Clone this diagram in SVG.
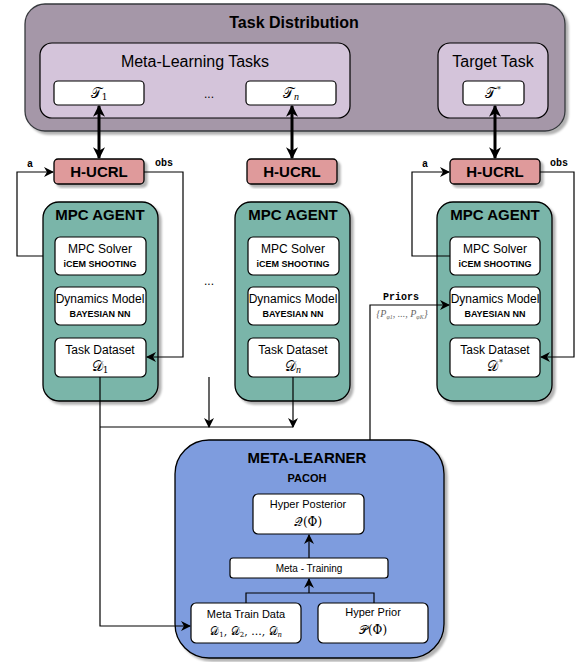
<svg xmlns="http://www.w3.org/2000/svg" width="577" height="662" viewBox="0 0 577 662">
<defs>
<filter id="sh" x="-10%" y="-10%" width="130%" height="130%"><feDropShadow dx="3" dy="3" stdDeviation="1" flood-color="#000" flood-opacity="0.3"/></filter>
<marker id="ah" viewBox="0 0 10 10" refX="9" refY="5" markerWidth="10" markerHeight="10" markerUnits="userSpaceOnUse" orient="auto"><path d="M0,0 L10,5 L0,10 L3,5 Z" fill="#000"/></marker>
<marker id="ahs" viewBox="0 0 10 10" refX="9" refY="5" markerWidth="4" markerHeight="4" orient="auto-start-reverse"><path d="M0,0 L10,5 L0,10 L3,5 Z" fill="#000"/></marker>
</defs>
<style>
.sans{font-family:"Liberation Sans",Arial,sans-serif;}
.b{font-weight:bold;}
.mono{font-family:"Liberation Mono","Courier New",monospace;font-weight:bold;font-size:10px;}
.cal{font-family:"DejaVu Serif","Liberation Serif",serif;font-style:normal;}
.it{font-family:"Liberation Serif",serif;font-style:italic;}
.wbox{fill:#fff;stroke:#000;stroke-width:1.2;}
.ln{fill:none;stroke:#000;stroke-width:1.2;}
.thick{fill:none;stroke:#000;stroke-width:3;marker-start:url(#ahs);marker-end:url(#ahs);}
text{text-anchor:middle;fill:#000;}
.agent{fill:#7ab5a9;stroke:#000;stroke-width:1.3;filter:url(#sh);}
.hucrl{fill:#df9a9b;stroke:#000;stroke-width:1.3;filter:url(#sh);}
.sub{font-size:9px;font-weight:bold;}
</style>

<g id="task-distribution">
<rect x="25" y="4" width="540" height="127" rx="20" fill="#a597a8" stroke="#36393d" stroke-width="1.3" filter="url(#sh)"/>
<text x="294" y="28" class="sans b" font-size="16">Task Distribution</text>
</g>
<g id="meta-learning-tasks">
<rect x="40" y="43" width="310" height="75" rx="12" fill="#d4c4da" stroke="#000" stroke-width="1.2"/>
<text x="195" y="67" class="sans" font-size="16">Meta-Learning Tasks</text>
<text x="209" y="98" class="sans" font-size="12">...</text>
</g>
<g id="T1"><rect x="54" y="81" width="90" height="24" rx="4" class="wbox"/><text x="99" y="98" class="cal" font-size="14">𝒯<tspan font-size="9" dy="2">1</tspan></text></g>
<g id="Tn"><rect x="246" y="81" width="90" height="24" rx="4" class="wbox"/><text x="291" y="98" class="cal" font-size="14">𝒯<tspan class="it" font-size="10" dy="2">n</tspan></text></g>
<g id="target-task">
<rect x="438" y="43" width="110" height="75" rx="12" fill="#d4c4da" stroke="#000" stroke-width="1.2"/>
<text x="493" y="67" class="sans" font-size="16">Target Task</text>
</g>
<g id="Tstar"><rect x="463" y="81" width="61" height="24" rx="4" class="wbox"/><text x="493" y="98" class="cal" font-size="14">𝒯<tspan font-size="8" dx="1" dy="-6">*</tspan></text></g>

<g id="hucrl-1"><rect x="54" y="159" width="90" height="25" rx="4" class="hucrl"/><text x="99" y="177" class="sans b" font-size="15">H-UCRL</text></g>
<g id="hucrl-n"><rect x="247" y="159" width="90" height="25" rx="4" class="hucrl"/><text x="292" y="177" class="sans b" font-size="15">H-UCRL</text></g>
<g id="hucrl-star"><rect x="450" y="159" width="90" height="25" rx="4" class="hucrl"/><text x="495" y="177" class="sans b" font-size="15">H-UCRL</text></g>

<g id="agent-1">
<rect x="43" y="202" width="115" height="199" rx="16" class="agent"/>
<text x="100" y="220" class="sans b" font-size="15">MPC AGENT</text>
<rect x="55" y="237" width="91" height="38" rx="5" class="wbox"/>
<text x="100" y="253" class="sans" font-size="12">MPC Solver</text>
<text x="100" y="266.5" class="sans sub">iCEM SHOOTING</text>
<rect x="55" y="287" width="91" height="38" rx="5" class="wbox"/>
<text x="100" y="303" class="sans" font-size="12">Dynamics Model</text>
<text x="100" y="316.5" class="sans sub">BAYESIAN NN</text>
<rect x="55" y="338" width="91" height="39" rx="5" class="wbox"/>
<text x="100" y="354" class="sans" font-size="12">Task Dataset</text>
<text x="100" y="371" class="cal" font-size="14">𝒟<tspan font-size="9" dy="2">1</tspan></text>
</g>
<g id="agent-n">
<rect x="235" y="202" width="115" height="199" rx="16" class="agent"/>
<text x="293" y="220" class="sans b" font-size="15">MPC AGENT</text>
<rect x="248" y="237" width="91" height="38" rx="5" class="wbox"/>
<text x="293" y="253" class="sans" font-size="12">MPC Solver</text>
<text x="293" y="266.5" class="sans sub">iCEM SHOOTING</text>
<rect x="248" y="287" width="91" height="38" rx="5" class="wbox"/>
<text x="293" y="303" class="sans" font-size="12">Dynamics Model</text>
<text x="293" y="316.5" class="sans sub">BAYESIAN NN</text>
<rect x="248" y="338" width="91" height="39" rx="5" class="wbox"/>
<text x="293" y="354" class="sans" font-size="12">Task Dataset</text>
<text x="293" y="371" class="cal" font-size="14">𝒟<tspan class="it" font-size="10" dy="2">n</tspan></text>
</g>
<text x="209" y="285" class="sans" font-size="12">...</text>
<g id="agent-star">
<rect x="437" y="202" width="115" height="199" rx="16" class="agent"/>
<text x="495" y="220" class="sans b" font-size="15">MPC AGENT</text>
<rect x="450" y="237" width="90" height="38" rx="5" class="wbox"/>
<text x="495" y="253" class="sans" font-size="12">MPC Solver</text>
<text x="495" y="266.5" class="sans sub">iCEM SHOOTING</text>
<rect x="450" y="287" width="90" height="38" rx="5" class="wbox"/>
<text x="495" y="303" class="sans" font-size="12">Dynamics Model</text>
<text x="495" y="316.5" class="sans sub">BAYESIAN NN</text>
<rect x="450" y="338" width="90" height="39" rx="5" class="wbox"/>
<text x="495" y="354" class="sans" font-size="12">Task Dataset</text>
<text x="495" y="371" class="cal" font-size="14">𝒟<tspan font-size="8" dx="1" dy="-6">*</tspan></text>
</g>

<g id="meta-learner">
<rect x="175" y="440" width="269" height="218" rx="34" fill="#7e9cde" stroke="#000" stroke-width="1.3" filter="url(#sh)"/>
<text x="307" y="463" class="sans b" font-size="15">META-LEARNER</text>
<text x="307" y="482" class="sans b" font-size="11">PACOH</text>
<rect x="253" y="494" width="111" height="40" rx="5" class="wbox"/>
<text x="308" y="508" class="sans" font-size="11">Hyper Posterior</text>
<text x="308" y="526" class="cal" font-size="12">𝒬(Φ)</text>
<rect x="230" y="558" width="158" height="20" rx="3" class="wbox"/>
<text x="309" y="572" class="sans" font-size="10">Meta - Training</text>
<rect x="191" y="603" width="110" height="40" rx="5" class="wbox"/>
<text x="246" y="618" class="sans" font-size="11">Meta Train Data</text>
<text x="246" y="635" class="cal" font-size="11">𝒟<tspan font-size="7" dy="2">1</tspan><tspan dy="-2">, 𝒟</tspan><tspan font-size="7" dy="2">2</tspan><tspan dy="-2">, ..., 𝒟</tspan><tspan class="it" font-size="8" dy="2">n</tspan></text>
<rect x="318" y="603" width="110" height="40" rx="5" class="wbox"/>
<text x="373" y="616" class="sans" font-size="11">Hyper Prior</text>
<text x="373" y="634" class="cal" font-size="12">𝒫(Φ)</text>
</g>

<g id="connectors">
<line x1="99" y1="106" x2="99" y2="158" class="thick"/>
<line x1="292" y1="106" x2="292" y2="158" class="thick"/>
<line x1="495" y1="106" x2="495" y2="158" class="thick"/>
<path d="M43,256 H17 V172 H53" class="ln" marker-end="url(#ah)"/>
<path d="M144,172 H183 V357 H147" class="ln" marker-end="url(#ah)"/>
<path d="M450,256 H412 V172 H449" class="ln" marker-end="url(#ah)"/>
<path d="M540,172 H574 V357 H541" class="ln" marker-end="url(#ah)"/>
<path d="M370,440 V305 H449" class="ln" marker-end="url(#ah)"/>
<path d="M100,377 V626 H190" class="ln" marker-end="url(#ah)"/>
<line x1="100" y1="427" x2="293" y2="427" class="ln"/>
<line x1="209" y1="377" x2="209" y2="427" class="ln" marker-end="url(#ah)"/>
<line x1="293" y1="377" x2="293" y2="427" class="ln" marker-end="url(#ah)"/>
<line x1="309" y1="558" x2="309" y2="535" class="ln" marker-end="url(#ah)"/>
<path d="M246,603 V593 H374 V603" class="ln"/>
<line x1="309" y1="593" x2="309" y2="579" class="ln" marker-end="url(#ah)"/>
<text x="30" y="167" class="mono">a</text>
<text x="164" y="166" class="mono">obs</text>
<text x="425" y="167" class="mono">a</text>
<text x="559" y="166" class="mono">obs</text>
<text x="401" y="300" class="mono" font-size="11">Priors</text>
<text x="402" y="317" class="it" font-size="10" style="fill:#666">{P<tspan font-size="6" dy="2">φ1</tspan><tspan dy="-2">, ..., P</tspan><tspan font-size="6" dy="2">φK</tspan><tspan dy="-2">}</tspan></text>
</g>
</svg>
